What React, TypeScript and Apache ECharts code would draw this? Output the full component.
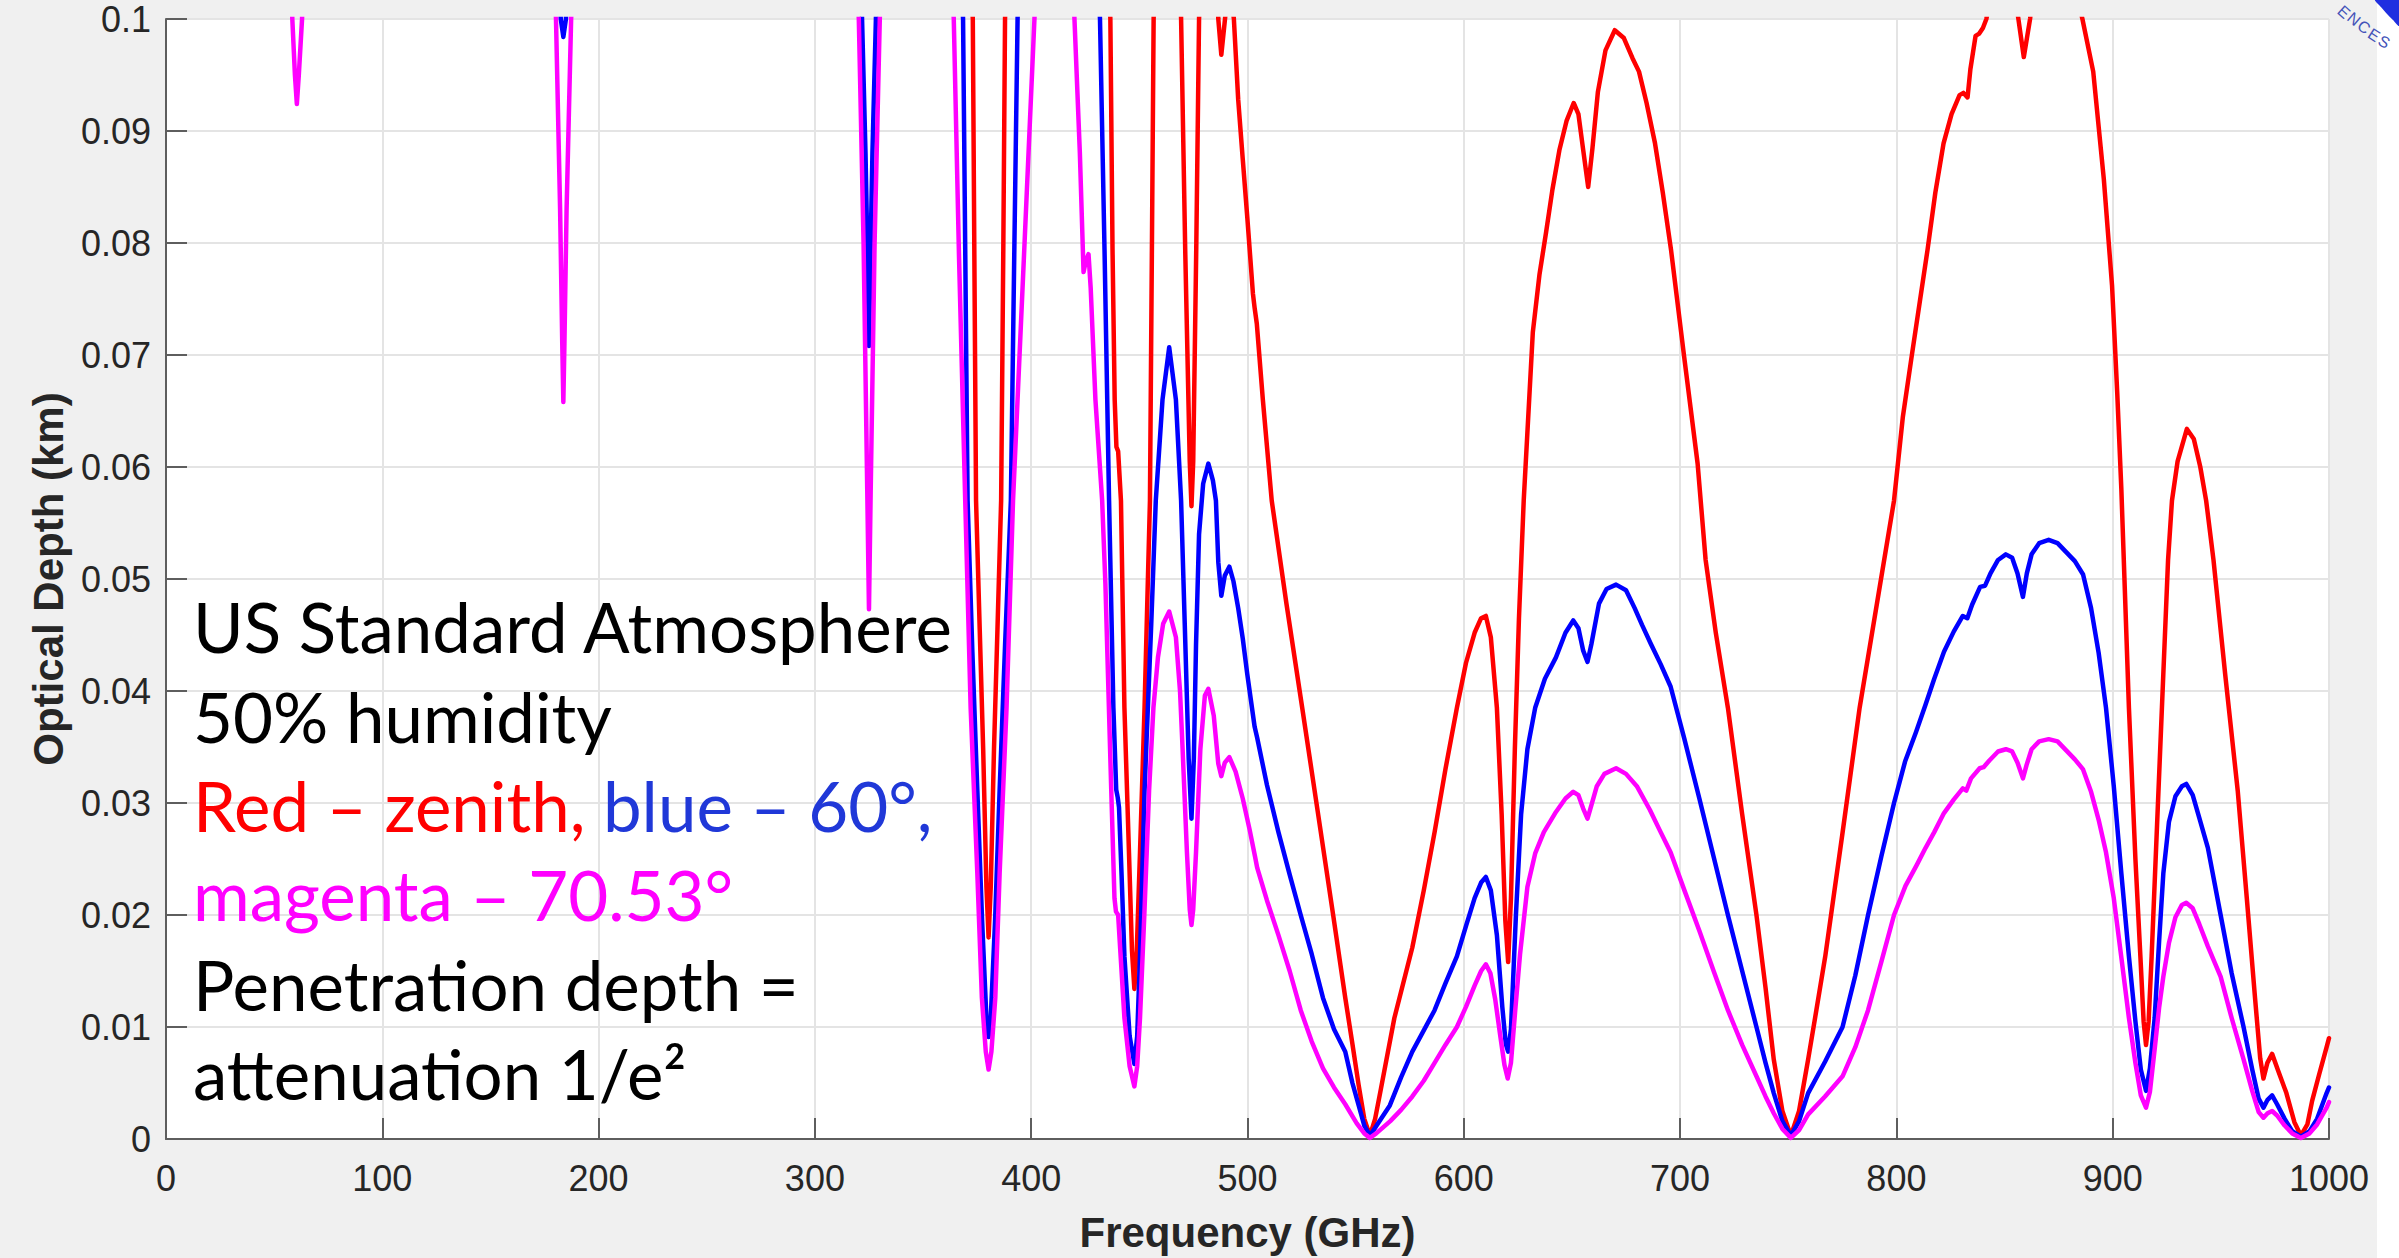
import React, { useEffect, useRef } from "react";
import * as echarts from "echarts";

// Frequency (GHz) / optical depth (km) pairs.
// Values above 0.1 lie off the top of the axes and are clipped.
const zenithCurve: [number, number][] = [
  [0, 0.17], [200, 0.16], [368, 0.125], [373, 0.1], [373.7, 0.0794], [374.5, 0.057], [376.2, 0.0455],
  [377.8, 0.0348], [379.3, 0.0225], [380.3, 0.018], [381.3, 0.0225], [382.8, 0.0348], [384.4, 0.0455],
  [386.1, 0.057], [387.1, 0.0794], [387.9, 0.1], [392, 0.125], [432, 0.125], [436.6, 0.1], [437.6, 0.0794],
  [438.6, 0.066], [439.4, 0.0618], [440.2, 0.0614], [441.5, 0.057], [443.1, 0.0385], [445.2, 0.0256],
  [446.6, 0.0168], [447.7, 0.0134], [448.8, 0.0168], [450.3, 0.0256], [452.4, 0.0385], [454.9, 0.057],
  [455.8, 0.0794], [456.6, 0.1], [460, 0.125], [466, 0.125], [469.3, 0.1], [471.2, 0.0794], [473.3, 0.0605],
  [474.1, 0.0565], [474.9, 0.0605], [476.3, 0.0794], [477.6, 0.1], [480, 0.115], [484, 0.115], [486.5, 0.1],
  [487.9, 0.0968], [489.6, 0.1], [491.5, 0.104], [493.7, 0.1], [495.7, 0.0928], [497.8, 0.0875],
  [499.9, 0.0823], [502.5, 0.0755], [503.3, 0.0742], [504.3, 0.0728], [507.1, 0.066], [511.2, 0.057],
  [518, 0.0478], [525.3, 0.0385], [532.5, 0.0292], [539.6, 0.02], [545.2, 0.0126], [548.5, 0.0085],
  [551.4, 0.0048], [554, 0.0018], [556.6, 0.0003], [559, 0.0018], [561.7, 0.0045], [567.9, 0.0108],
  [576.2, 0.0171], [581.5, 0.0222], [586.5, 0.0274], [591.5, 0.033], [596.8, 0.0385], [601, 0.0425],
  [605, 0.0452], [608, 0.0465], [610.2, 0.0467], [612.5, 0.0448], [615.3, 0.0385], [617.5, 0.029],
  [619.2, 0.0195], [620.5, 0.0158], [621.8, 0.0215], [623.6, 0.0348], [625.5, 0.0465], [627.7, 0.057],
  [631.9, 0.072], [635, 0.0772], [638, 0.0809], [641, 0.0848], [644.2, 0.0883], [647.5, 0.0909],
  [650.8, 0.0925], [653, 0.0915], [655.2, 0.0883], [657.5, 0.085], [659.5, 0.0885], [662, 0.0935],
  [665.5, 0.0972], [669.8, 0.099], [674, 0.0983], [678, 0.0965], [681, 0.0953], [684.5, 0.0925],
  [688.4, 0.0889], [692, 0.0845], [695.8, 0.0794], [701.9, 0.0698], [708.1, 0.0603], [711.8, 0.0517],
  [716.5, 0.0452], [722.1, 0.0385], [728.7, 0.029], [735.3, 0.02], [739.5, 0.0135], [743.3, 0.0071],
  [747.3, 0.0025], [751.2, 0.0003], [755, 0.0025], [759.2, 0.0071], [763, 0.0115], [767.1, 0.0163],
  [775, 0.0272], [783, 0.0385], [791, 0.0478], [798.9, 0.057], [803, 0.0645], [807, 0.0698],
  [814.4, 0.0794], [818, 0.0845], [821.8, 0.0889], [825.5, 0.0915], [829.2, 0.0932], [831, 0.0934],
  [832.9, 0.093], [834.2, 0.0955], [836.6, 0.0985], [838.3, 0.0987], [840, 0.0992], [841.6, 0.1],
  [846, 0.105], [852, 0.106], [856.4, 0.1], [858.9, 0.0966], [861.8, 0.1], [866, 0.108], [876, 0.108],
  [886, 0.1], [891, 0.0953], [895.9, 0.0857], [899.7, 0.0762], [902.1, 0.0666], [904, 0.058],
  [907.5, 0.0385], [910.5, 0.025], [912.8, 0.0163], [914.3, 0.0105], [915.4, 0.0084], [916.6, 0.0105],
  [918, 0.0163], [920.5, 0.028], [923.4, 0.0415], [925.6, 0.0517], [927.4, 0.057], [930, 0.0605],
  [934.3, 0.0634], [937.5, 0.0625], [940.5, 0.06], [943.2, 0.057], [946.6, 0.0517], [952, 0.0415],
  [957.8, 0.0311], [962, 0.0215], [965.8, 0.0126], [968.2, 0.0072], [969.7, 0.0054], [971.5, 0.0068],
  [973.7, 0.0076], [976.5, 0.0061], [980.3, 0.0041], [984, 0.0015], [987, 0.0003], [990, 0.0013],
  [992.2, 0.0034], [995.5, 0.0058], [998.9, 0.0082], [1000, 0.009],
];

const sixtyDegCurve: [number, number][] = [
  [0, 0.16], [120, 0.15], [179, 0.125], [182.5, 0.1], [183.7, 0.0984], [184.9, 0.1], [188.5, 0.125],
  [260, 0.15], [318, 0.125], [321.8, 0.1], [323.4, 0.088], [324.4, 0.078], [325, 0.0708], [325.6, 0.078],
  [326.6, 0.088], [328.2, 0.1], [332, 0.125], [363, 0.125], [368.5, 0.1], [369.5, 0.0794], [370.6, 0.057],
  [372.8, 0.0435], [375.1, 0.0311], [377.3, 0.0195], [379.3, 0.0108], [380.3, 0.0091], [381.3, 0.0108],
  [383.3, 0.0195], [385.4, 0.0311], [388, 0.0445], [390.6, 0.057], [392.2, 0.0794], [393.7, 0.1],
  [397, 0.125], [427, 0.125], [431.8, 0.1], [433.9, 0.0794], [436, 0.057], [438, 0.0385], [439.3, 0.0312],
  [440, 0.0305], [440.6, 0.0296], [441.8, 0.0235], [443.1, 0.0163], [445.5, 0.0092], [447.7, 0.0067],
  [449, 0.0092], [450.3, 0.0163], [452.4, 0.0311], [455.5, 0.046], [457.6, 0.057], [460.7, 0.066],
  [463.8, 0.0707], [466.9, 0.066], [469.3, 0.057], [471, 0.0459], [472.8, 0.034], [474.1, 0.0286],
  [475.2, 0.034], [476.2, 0.0441], [477.6, 0.054], [479.5, 0.0585], [481.9, 0.0603], [484, 0.0588],
  [485.4, 0.057], [486.5, 0.0515], [487.9, 0.0485], [489.5, 0.0503], [491.6, 0.0511], [493.5, 0.0498],
  [495.7, 0.0474], [497.8, 0.0447], [499.9, 0.0415], [503.3, 0.0368], [504.5, 0.0358], [509, 0.0316],
  [514.3, 0.0274], [519.5, 0.0236], [524.6, 0.02], [529.7, 0.0165], [534.9, 0.0126], [540, 0.0098],
  [545.2, 0.0078], [548.5, 0.005], [551.4, 0.003], [554, 0.0012], [556.6, 0.0003], [560, 0.0013],
  [565.8, 0.003], [571, 0.0055], [576.2, 0.0078], [581.5, 0.0097], [586.5, 0.0115], [591.5, 0.0139],
  [596.8, 0.0163], [601, 0.019], [605, 0.0215], [608, 0.0229], [610.2, 0.0234], [612.5, 0.0222],
  [615.3, 0.0182], [617.8, 0.0118], [619.4, 0.0085], [620.5, 0.0078], [621.8, 0.0098], [624.1, 0.02],
  [626.5, 0.029], [629.4, 0.0348], [633, 0.0385], [637.5, 0.0411], [642.6, 0.043], [647, 0.0452],
  [650.6, 0.0463], [653, 0.0456], [655.2, 0.0436], [657.2, 0.0426], [659, 0.0442], [662.5, 0.0478],
  [666, 0.0491], [670.4, 0.0495], [675, 0.049], [679, 0.0474], [682.4, 0.0459], [686.5, 0.0442],
  [691, 0.0424], [695.6, 0.0404], [702, 0.0357], [708.9, 0.0304], [715.5, 0.0252], [722.1, 0.02],
  [728.7, 0.015], [735.3, 0.01], [739.5, 0.0068], [743.3, 0.0041], [747.3, 0.0016], [751.2, 0.0003],
  [755, 0.0016], [759.2, 0.0041], [767, 0.0069], [775.1, 0.01], [781, 0.0146], [786.9, 0.02],
  [793, 0.0252], [798.9, 0.03], [804, 0.0337], [809, 0.0363], [813.5, 0.0388], [817.5, 0.0411],
  [822, 0.0435], [826.5, 0.0453], [830.7, 0.0467], [832.8, 0.0465], [835, 0.0477], [838.7, 0.0493],
  [841, 0.0494], [843.5, 0.0505], [847, 0.0517], [850.6, 0.0522], [853.5, 0.0519], [856, 0.0505],
  [858.5, 0.0484], [860.3, 0.0505], [862.5, 0.0522], [866, 0.0532], [870.4, 0.0535], [874.5, 0.0532],
  [878.5, 0.0524], [882.5, 0.0516], [886.3, 0.0504], [890, 0.0474], [893.5, 0.0434], [896.9, 0.0385],
  [900.5, 0.0315], [904, 0.0237], [907.5, 0.0163], [910.5, 0.0105], [913, 0.0062], [915.4, 0.0043],
  [917.2, 0.0063], [919.4, 0.0108], [921.5, 0.0178], [923.4, 0.0237], [926, 0.0283], [929, 0.0306],
  [932, 0.0315], [934, 0.0317], [937, 0.0307], [940, 0.0287], [944, 0.026], [949.9, 0.02], [955, 0.0148],
  [960.5, 0.01], [964.5, 0.0062], [967.5, 0.0036], [969.7, 0.0028], [971.6, 0.0035], [973.7, 0.0039],
  [976, 0.0031], [979.5, 0.0018], [983, 0.0007], [987, 0.0002], [991, 0.0007], [994.5, 0.0018],
  [998.9, 0.0041], [1000, 0.0046],
];

const seventyDegCurve: [number, number][] = [
  [0, 0.16], [40, 0.14], [55.5, 0.125], [58.4, 0.1], [59.6, 0.095], [60.5, 0.0924], [61.4, 0.095],
  [62.9, 0.1], [66, 0.125], [120, 0.14], [176, 0.125], [180.3, 0.1], [182.2, 0.083], [183.2, 0.071],
  [183.7, 0.0658], [184.2, 0.071], [185.2, 0.083], [187.3, 0.1], [191, 0.125], [260, 0.14], [316, 0.125],
  [320.3, 0.1], [322.5, 0.08], [324.2, 0.058], [325, 0.0473], [325.8, 0.058], [327.6, 0.08], [330, 0.1],
  [334, 0.125], [359, 0.125], [364.2, 0.1], [366.6, 0.079], [369.5, 0.057], [372, 0.0385], [375.1, 0.0237],
  [377.2, 0.0126], [379, 0.0078], [380.3, 0.0062], [381.6, 0.0078], [383.4, 0.0126], [385.4, 0.0237],
  [388.6, 0.0385], [391.6, 0.057], [396.7, 0.079], [401.5, 0.1], [405, 0.12], [416, 0.12], [420, 0.1],
  [422.5, 0.088], [424.2, 0.0774], [425.4, 0.0785], [426.5, 0.079], [427.5, 0.076], [429.7, 0.066],
  [432.8, 0.057], [434.3, 0.0496], [437, 0.0312], [438.5, 0.0215], [439.2, 0.0203], [440.2, 0.02],
  [441.2, 0.0168], [443.1, 0.0108], [445.5, 0.0065], [447.7, 0.0047], [449, 0.0065], [450.3, 0.0108],
  [452.3, 0.02], [454.5, 0.0311], [456.5, 0.0385], [458.6, 0.043], [461, 0.046], [463.8, 0.0471],
  [466.9, 0.0448], [468.8, 0.04], [470, 0.0348], [472, 0.0256], [473.3, 0.0205], [474.1, 0.0191],
  [474.9, 0.0205], [476.2, 0.0256], [478.2, 0.0348], [480.3, 0.0396], [481.9, 0.0402], [484.4, 0.0378],
  [486.5, 0.0335], [487.9, 0.0324], [489.5, 0.0336], [491.6, 0.0341], [494.5, 0.0328], [497.8, 0.0304],
  [501, 0.0276], [503.5, 0.0252], [504.5, 0.0242], [509, 0.0213], [514.3, 0.0182], [519.5, 0.015],
  [524.6, 0.0115], [529.7, 0.0087], [534.9, 0.0063], [540, 0.0046], [545.2, 0.0031], [550.5, 0.0014],
  [554, 0.0005], [556.6, 0.0001], [559.5, 0.0005], [566, 0.0016], [571, 0.0026], [576.2, 0.0038],
  [581.5, 0.0052], [586.5, 0.0068], [591.5, 0.0084], [596.8, 0.01], [601, 0.0118], [605, 0.0137],
  [608, 0.015], [610.2, 0.0156], [612.3, 0.0148], [614.5, 0.0125], [616.8, 0.0093], [618.8, 0.0066],
  [620.3, 0.0054], [621.8, 0.0068], [623.7, 0.0113], [626, 0.0165], [629.4, 0.0225], [633, 0.0255],
  [637, 0.0274], [642.6, 0.0292], [647, 0.0304], [650.6, 0.031], [653, 0.0307], [655.2, 0.0295],
  [657.2, 0.0286], [659, 0.0298], [661.5, 0.0315], [665, 0.0326], [670.4, 0.0331], [675, 0.0326],
  [680, 0.0315], [686, 0.0294], [690.5, 0.0276], [695.6, 0.0256], [702, 0.0222], [708.9, 0.0186],
  [715.5, 0.015], [722.1, 0.0115], [728.7, 0.0084], [735.3, 0.0056], [739.5, 0.0038], [743.3, 0.0023],
  [747.3, 0.0009], [751.2, 0.0001], [755, 0.0008], [759.2, 0.0022], [767, 0.0038], [775.1, 0.0056],
  [781, 0.0082], [786.9, 0.0115], [793, 0.0158], [798.9, 0.02], [804.2, 0.0226], [809.5, 0.0245],
  [813.5, 0.026], [817.5, 0.0274], [822, 0.0291], [826.5, 0.0303], [830.7, 0.0313], [832.3, 0.0311],
  [834.5, 0.0322], [838.5, 0.0331], [840.3, 0.0332], [843, 0.0338], [847, 0.0346], [850.6, 0.0348],
  [853.5, 0.0346], [856, 0.0336], [858.5, 0.0322], [860.2, 0.0334], [862.5, 0.0348], [866, 0.0355],
  [870.4, 0.0357], [874.5, 0.0355], [878.5, 0.0347], [882.5, 0.0339], [886.3, 0.033], [890, 0.031],
  [893.5, 0.0285], [896.9, 0.0256], [900.5, 0.0215], [904, 0.0162], [907.5, 0.0108], [910.5, 0.0068],
  [913, 0.0039], [915.4, 0.0028], [917.2, 0.0042], [919.5, 0.0082], [921.5, 0.0118], [923.4, 0.0145],
  [926, 0.0175], [929, 0.0198], [932, 0.0209], [934, 0.0211], [937, 0.0206], [940, 0.0192], [944, 0.0172],
  [949.9, 0.0145], [955, 0.0108], [960.5, 0.0071], [964.5, 0.0043], [967.5, 0.0024], [969.7, 0.0019],
  [971.6, 0.0023], [973.7, 0.0025], [976, 0.0021], [979.5, 0.0012], [983, 0.0005], [987, 0.0001],
  [991, 0.0005], [994.5, 0.0013], [998.9, 0.0028], [1000, 0.0033],
];

const seriesNames = ["zenith", "60°", "70.53°"];
const seriesColors = ["#ff0000", "#0000ff", "#ff00ff"];

const xTicks = { min: 0, max: 1000, step: 100 };
const yTicks = { min: 0, max: 0.1, step: 0.01 };

const noteLines = [
  "US Standard Atmosphere",
  "50% humidity",
  "{r|Red – zenith,} {b|blue – 60°,}",
  "magenta – 70.53°",
  "Penetration depth =",
  "attenuation 1/e²",
];
const noteColors = ["#000000", "#000000", "#000000", "#ff00ff", "#000000", "#000000"];
const logoLetters = ["E", "N", "C", "E", "S"];

export default function App() {
  const ref = useRef<HTMLDivElement>(null);

  useEffect(() => {
    if (!ref.current) return;
    const chart = echarts.init(ref.current, null, { renderer: "svg" });
    const axisGray = "#5e5e5e";
    const labelColor = "#262626";
    const noteFont = 69;
    const noteBase = 651.7;
    const noteStep = 89.3;

    const graphics: any[] = [
      { type: "rect", shape: { x: 2377, y: 0, width: 22, height: 1258 }, style: { fill: "#ffffff" }, silent: true },
      {
        type: "polygon",
        shape: { points: [[2375, 0], [2381, 7], [2387, 14], [2393, 20], [2399, 26], [2399, 0]], smooth: 0.2 },
        style: { fill: "#1f2fe0" },
        silent: true,
      },
    ];
    const letterPos = [
      [2344, 12, -42], [2354, 19, -40], [2364, 27, -37], [2374, 35, -33], [2384, 42, -30],
    ];
    logoLetters.forEach((ch, i) => {
      graphics.push({
        type: "text",
        x: letterPos[i][0],
        y: letterPos[i][1],
        rotation: (letterPos[i][2] * Math.PI) / 180,
        style: {
          text: ch,
          fill: "#4453b8",
          fontSize: 16,
          fontFamily: "Liberation Sans",
          align: "center",
          verticalAlign: "middle",
        },
        silent: true,
      });
    });
    noteLines.forEach((t, i) => {
      graphics.push({
        type: "text",
        x: 193,
        y: noteBase + i * noteStep - 0.36 * noteFont,
        z: 100,
        style: {
          text: t,
          fill: noteColors[i],
          fontSize: noteFont,
          fontFamily: "Lato",
          align: "left",
          verticalAlign: "middle",
          rich: {
            r: { fill: "#ff0000", fontSize: noteFont, fontFamily: "Lato" },
            b: { fill: "#2038d8", fontSize: noteFont, fontFamily: "Lato" },
          },
        },
        silent: true,
      });
    });

    const curves = [zenithCurve, sixtyDegCurve, seventyDegCurve];

    chart.setOption({
      animation: false,
      backgroundColor: "#f0f0f0",
      grid: {
        left: 166,
        right: 70,
        top: 19,
        bottom: 119,
        show: true,
        backgroundColor: "#ffffff",
        borderWidth: 0,
      },
      xAxis: {
        type: "value",
        min: xTicks.min,
        max: xTicks.max,
        interval: xTicks.step,
        name: "Frequency (GHz)",
        nameLocation: "middle",
        nameGap: 72,
        nameTextStyle: { fontFamily: "Liberation Sans", fontWeight: "bold", fontSize: 42, color: labelColor },
        axisLine: { show: true, onZero: false, lineStyle: { color: axisGray, width: 2 } },
        axisTick: { show: true, inside: true, length: 21, lineStyle: { color: axisGray, width: 2 } },
        axisLabel: {
          fontFamily: "Liberation Sans",
          fontSize: 36,
          color: labelColor,
          margin: 21,
          formatter: (v: number) => String(Math.round(v)),
        },
        splitLine: { show: true, lineStyle: { color: "#e4e4e4", width: 2 } },
      },
      yAxis: {
        type: "value",
        min: yTicks.min,
        max: yTicks.max,
        interval: yTicks.step,
        name: "Optical Depth (km)",
        nameLocation: "middle",
        nameGap: 97,
        nameTextStyle: { fontFamily: "Liberation Sans", fontWeight: "bold", fontSize: 42, color: labelColor },
        axisLine: { show: true, onZero: false, lineStyle: { color: axisGray, width: 2 } },
        axisTick: { show: true, inside: true, length: 21, lineStyle: { color: axisGray, width: 2 } },
        axisLabel: {
          fontFamily: "Liberation Sans",
          fontSize: 36,
          color: labelColor,
          margin: 15,
          formatter: (v: number) => String(Math.round(v * 100) / 100),
        },
        splitLine: { show: true, lineStyle: { color: "#e4e4e4", width: 2 } },
      },
      series: curves.map((c, i) => ({
        name: seriesNames[i],
        type: "line",
        data: c,
        showSymbol: false,
        symbol: "none",
        clip: true,
        silent: true,
        lineStyle: { width: 4.5, color: seriesColors[i], cap: "round", join: "round" },
      })),
      graphic: graphics,
    });

    return () => chart.dispose();
  }, []);

  return (
    <div
      ref={ref}
      style={{ position: "fixed", left: 0, top: 0, width: 2399, height: 1258 }}
    />
  );
}
